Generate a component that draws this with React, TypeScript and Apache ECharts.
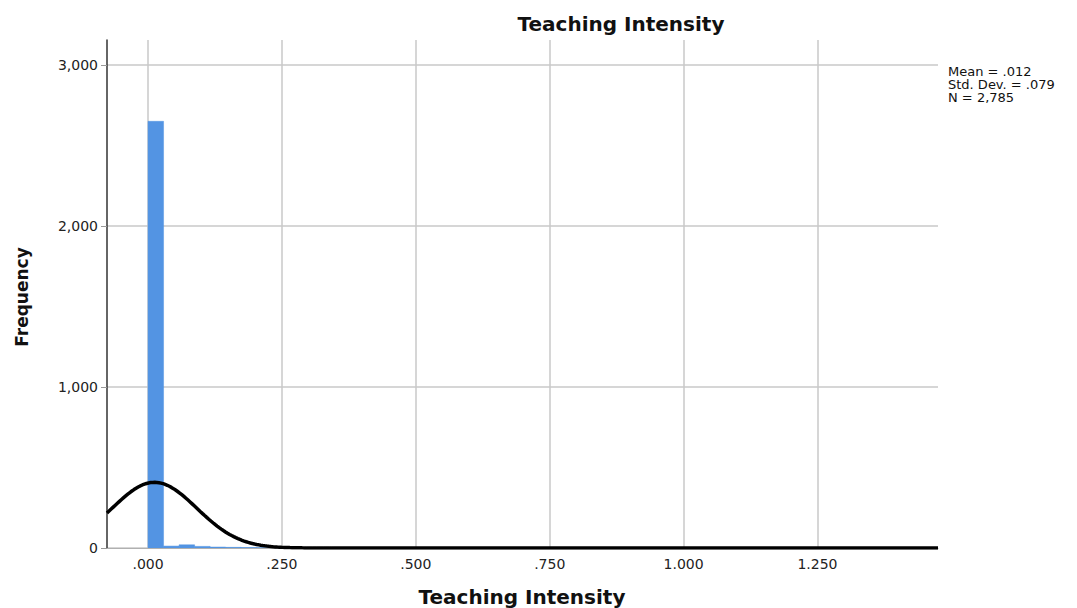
import React, { useEffect, useRef } from "react";
import * as echarts from "echarts";

// Histogram bins (lower edge, width) and counts
const binStart = 0;
const binWidth = 0.029;
const binCounts = [
  2650, 12, 20, 10, 6, 4, 3, 2, 2, 2, 1, 1, 1, 1, 1, 1, 1, 1, 1, 1,
  1, 1, 1, 1, 1, 1, 1, 1, 1, 1, 1, 1, 1, 1, 1, 1, 1, 1, 1, 1,
  1, 1, 1, 1, 1, 1, 1, 1, 1, 1,
];

// Summary statistics shown in the chart
const mean = 0.012;
const stdDev = 0.079;
const nObs = 2785;

// Axis extents and ticks
const xMin = -0.0766;
const xMax = 1.475;
const xTicks = [0, 0.25, 0.5, 0.75, 1.0, 1.25];
const xTickLabels = [".000", ".250", ".500", ".750", "1.000", "1.250"];
const yMax = 3155;
const yTicks = [0, 1000, 2000, 3000];
const yTickLabels = ["0", "1,000", "2,000", "3,000"];

const titleText = "Teaching Intensity";
const xName = "Teaching Intensity";
const yName = "Frequency";
const statsLines = [`Mean = .012`, `Std. Dev. = .079`, `N = 2,785`];

const FONT = "DejaVu Sans, Verdana, sans-serif";

export default function App() {
  const ref = useRef<HTMLDivElement>(null);

  useEffect(() => {
    if (!ref.current) return;
    const chart = echarts.init(ref.current, undefined, { renderer: "svg" });

    const bins = binCounts.map((c, i) => [
      binStart + i * binWidth,
      binStart + (i + 1) * binWidth,
      c,
    ]);

    // Fitted normal curve (SPSS "display normal curve"), scaled to bin width
    const curve: number[][] = [];
    const steps = 400;
    for (let i = 0; i <= steps; i++) {
      const x = xMin + ((xMax - xMin) * i) / steps;
      const z = (x - mean) / stdDev;
      const y =
        (nObs * binWidth * Math.exp(-0.5 * z * z)) /
        (stdDev * Math.sqrt(2 * Math.PI));
      curve.push([x, y]);
    }

    chart.setOption({
      animation: false,
      textStyle: { fontFamily: FONT },
      grid: { left: 107, right: 139, top: 40, bottom: 60, containLabel: false },
      xAxis: {
        type: "value",
        min: xMin,
        max: xMax,
        axisLine: { show: true, onZero: false, lineStyle: { color: "#b0b0b0", width: 1 } },
        axisTick: { show: false, customValues: xTicks },
        axisLabel: {
          customValues: xTicks,
          color: "#222",
          fontSize: 14,
          fontFamily: FONT,
          margin: 9,
          formatter: (v: number) => {
            const idx = xTicks.findIndex((t) => Math.abs(t - v) < 1e-6);
            return idx >= 0 ? xTickLabels[idx] : "";
          },
        },
        splitLine: { show: true, lineStyle: { color: "#c8c8c8", width: 1.5 } },
      },
      yAxis: {
        type: "value",
        min: 0,
        max: yMax,
        axisLine: { show: true, onZero: false, lineStyle: { color: "#333", width: 1.5 } },
        axisTick: {
          show: true,
          customValues: yTicks,
          length: 6,
          lineStyle: { color: "#999" },
        },
        axisLabel: {
          customValues: yTicks,
          color: "#222",
          fontSize: 14,
          fontFamily: FONT,
          margin: 9,
          formatter: (v: number) => {
            const idx = yTicks.findIndex((t) => Math.abs(t - v) < 1e-6);
            return idx >= 0 ? yTickLabels[idx] : "";
          },
        },
        splitLine: { show: true, lineStyle: { color: "#c8c8c8", width: 1.5 } },
      },
      series: [
        {
          type: "custom",
          data: bins,
          encode: { x: [0, 1], y: 2 },
          clip: true,
          renderItem: (params: any, api: any) => {
            const x0 = api.value(0);
            const x1 = api.value(1);
            const c = api.value(2);
            const p0 = api.coord([x0, c]);
            const p1 = api.coord([x1, 0]);
            return {
              type: "rect",
              shape: {
                x: p0[0],
                y: p0[1],
                width: p1[0] - p0[0],
                height: p1[1] - p0[1],
              },
              style: { fill: "#5394e3", stroke: "#5394e3", lineWidth: 0.5 },
            };
          },
          z: 2,
        },
        {
          type: "line",
          data: curve,
          showSymbol: false,
          symbol: "none",
          clip: true,
          lineStyle: { color: "#000", width: 3.5 },
          z: 3,
        },
      ],
      graphic: [
        {
          type: "text",
          x: 621,
          y: 24,
          style: {
            text: titleText,
            font: `bold 20px ${FONT}`,
            fill: "#111",
            align: "center",
            verticalAlign: "middle",
          },
        },
        {
          type: "text",
          x: 522,
          y: 597,
          style: {
            text: xName,
            font: `bold 20px ${FONT}`,
            fill: "#111",
            align: "center",
            verticalAlign: "middle",
          },
        },
        {
          type: "text",
          x: 22,
          y: 297,
          rotation: Math.PI / 2,
          style: {
            text: yName,
            font: `bold 17px ${FONT}`,
            fill: "#111",
            align: "center",
            verticalAlign: "middle",
          },
        },
        {
          type: "text",
          x: 948,
          y: 65,
          style: {
            text: statsLines.join("\n"),
            font: `13px ${FONT}`,
            lineHeight: 13,
            fill: "#111",
            align: "left",
            verticalAlign: "top",
          },
        },
      ],
    });

    return () => chart.dispose();
  }, []);

  return (
    <div
      ref={ref}
      style={{ position: "absolute", left: 0, top: 0, width: 1077, height: 608, background: "#fff" }}
    />
  );
}
